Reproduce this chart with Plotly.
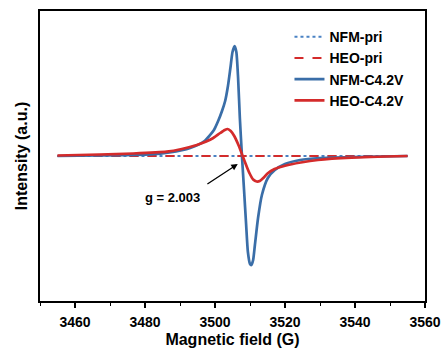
import plotly.graph_objects as go

# Magnetic field (G) and EPR derivative intensity (a.u.)
field_pri = [3455, 3480, 3505, 3530, 3555]
nfm_pri = [0, 0, 0, 0, 0]
heo_pri = [0, 0, 0, 0, 0]

field_nfm = [3455, 3467, 3481.4, 3487, 3492.9, 3497, 3499.7, 3500.9, 3502.0,
             3502.9, 3503.7, 3504.4, 3505.0, 3505.6, 3506.1, 3506.6, 3507.1,
             3507.7, 3508.3, 3508.9, 3509.4, 3510.0, 3510.4, 3510.9, 3511.4,
             3512.3, 3513.4, 3515.1, 3517.1, 3520, 3524.3, 3530, 3538.6, 3555]
int_nfm = [0, 0.5, 1.5, 3.5, 8, 15, 26, 35, 45,
           55, 70, 88, 104, 110, 104, 78, 38,
           0, -34, -69, -96, -108, -109, -104, -89,
           -62, -39, -22, -14, -8, -4, -2, -1, 0]

field_heo = [3455, 3467, 3476.6, 3486.2, 3490.5, 3494.8, 3497.5, 3499.5, 3501.5,
             3502.8, 3503.6, 3504.5, 3505.5, 3506.7, 3507.9, 3509.0, 3509.9,
             3510.9, 3511.9, 3512.8, 3513.8, 3515.0, 3517.0, 3520, 3524.5,
             3529.4, 3539, 3555]
int_heo = [0.5, 1.5, 2.5, 4.3, 7, 11, 14.5, 18, 23,
           26, 27, 25, 20, 11, 0, -10, -17.5,
           -23.5, -25.5, -25, -22, -17.5, -13, -9.7, -6.5,
           -4, -1.7, 0]

blue = "#3a6ea8"
red = "#d42b2b"

fig = go.Figure()
fig.add_trace(go.Scatter(x=field_pri, y=nfm_pri, mode="lines", name="NFM-pri",
                         line=dict(color="#4a82c4", width=2, dash="dot")))
fig.add_trace(go.Scatter(x=field_pri, y=heo_pri, mode="lines", name="HEO-pri",
                         line=dict(color=red, width=2, dash="dash")))
fig.add_trace(go.Scatter(x=field_nfm, y=int_nfm, mode="lines", name="NFM-C4.2V",
                         line=dict(color=blue, width=2.7, shape="spline", smoothing=0.6)))
fig.add_trace(go.Scatter(x=field_heo, y=int_heo, mode="lines", name="HEO-C4.2V",
                         line=dict(color=red, width=2.7, shape="spline", smoothing=0.6)))

fig.add_annotation(x=3506.5, y=-8, ax=3497.4, ay=-29, xref="x", yref="y",
                   axref="x", ayref="y", text="", showarrow=True,
                   arrowhead=2, arrowsize=1, arrowwidth=1.3, arrowcolor="black")
fig.add_annotation(x=3487.9, y=-41, xref="x", yref="y", text="<b>g = 2.003</b>",
                   showarrow=False, font=dict(size=13, color="black"))

fig.update_layout(
    width=448, height=349,
    margin=dict(l=40, r=23, t=11, b=48),
    paper_bgcolor="white", plot_bgcolor="white",
    font=dict(family="Liberation Sans, Arial, sans-serif", size=12, color="black"),
    showlegend=True,
    legend=dict(x=0.648, y=0.965, xanchor="left", yanchor="top",
                bgcolor="rgba(0,0,0,0)", tracegroupgap=0,
                font=dict(size=14, color="black", weight="bold"),
                itemwidth=30),
    xaxis=dict(range=[3450, 3560], tickvals=[3460, 3480, 3500, 3520, 3540, 3560],
               automargin=False,
               ticks="outside", ticklen=5, tickwidth=1.5, tickcolor="black",
               ticklabelstandoff=2,
               minor=dict(dtick=10, ticks="outside", ticklen=3, tickwidth=1.2,
                          tickcolor="black"),
               showline=True, linecolor="black", linewidth=2, mirror=True,
               showgrid=False, zeroline=False,
               tickfont=dict(size=14, weight="bold"),
               title=dict(text="Magnetic field (G)", standoff=5,
                          font=dict(size=16, weight="bold"))),
    yaxis=dict(range=[-145, 145], showticklabels=False, ticks="",
               automargin=False,
               showline=True, linecolor="black", linewidth=2, mirror=True,
               showgrid=False, zeroline=False,
               title=dict(text="Intensity (a.u.)", standoff=6,
                          font=dict(size=16, weight="bold"))),
)

fig.write_html("out.html")
